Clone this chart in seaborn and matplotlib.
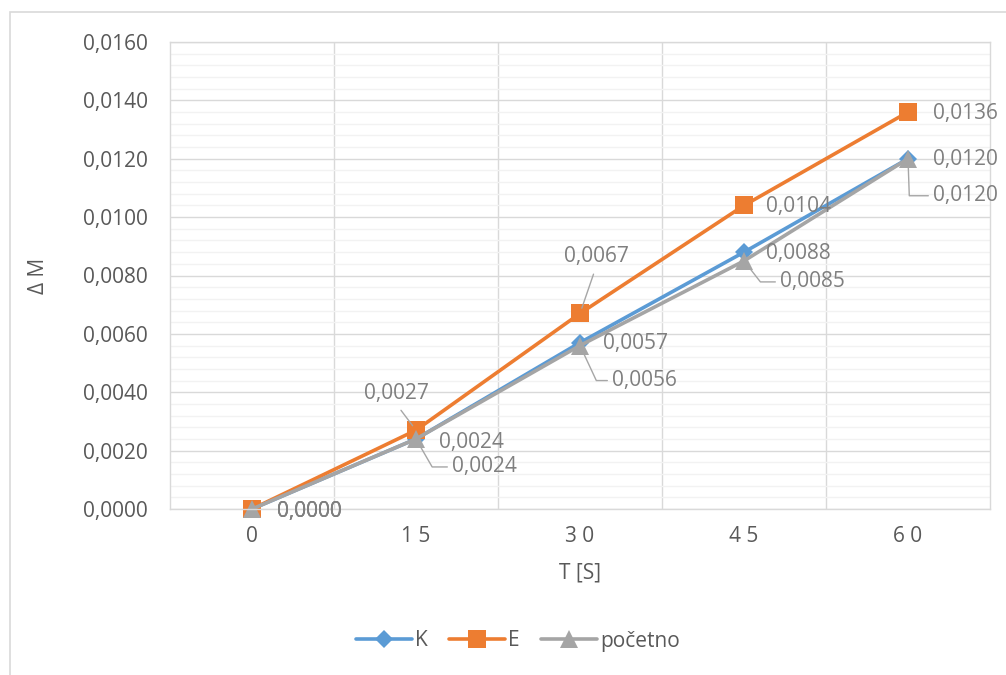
import seaborn as sns
from matplotlib import pyplot as plt
from matplotlib.patches import Rectangle
from matplotlib.ticker import MultipleLocator, FuncFormatter
import pandas as pd

# data
times = [0, 15, 30, 45, 60]
tick_labels = ['0', '1 5', '3 0', '4 5', '6 0']
series_names = ['K', 'E', 'početno']
k_vals = [0.0000, 0.0024, 0.0057, 0.0088, 0.0120]
e_vals = [0.0000, 0.0027, 0.0067, 0.0104, 0.0136]
p_vals = [0.0000, 0.0024, 0.0056, 0.0085, 0.0120]

colors = {'K': '#5B9BD5', 'E': '#ED7D31', 'početno': '#A5A5A5'}
markers = {'K': 'D', 'E': 's', 'početno': '^'}
msizes = {'K': 9, 'E': 12.5, 'početno': 13.5}

df = pd.DataFrame({
    'T': times * 3,
    'dM': k_vals + e_vals + p_vals,
    'serija': [s for s in series_names for _ in times],
})

sns.set_style('white')
plt.rcParams['font.family'] = ['Open Sans', 'DejaVu Sans']

TXT = '#595959'
LBL = '#7F7F7F'
GRID = '#D9D9D9'
FS = 15

fig = plt.figure(figsize=(10.06, 6.75), dpi=100)
ax = fig.add_axes([170 / 1006, 1 - 509 / 675, 820 / 1006, 467 / 675])

sns.lineplot(data=df, x='T', y='dM', hue='serija', style='serija',
             hue_order=series_names, style_order=series_names,
             palette=colors, markers=markers, dashes=False,
             linewidth=2.6, markeredgewidth=0, legend=False, ax=ax)

lines = ax.lines[:3]
for ln, name in zip(lines, series_names):
    ln.set_markersize(msizes[name])
    ln.set_solid_capstyle('round')
    ln.set_solid_joinstyle('round')
    ln.set_clip_on(False)

ax.set_xlim(-7.5, 67.5)
ax.set_ylim(0, 0.016)
ax.set_xticks(times)
ax.set_xticklabels(tick_labels)
ax.set_xticks([7.5, 22.5, 37.5, 52.5], minor=True)
ax.yaxis.set_major_locator(MultipleLocator(0.002))
ax.yaxis.set_minor_locator(MultipleLocator(0.0004))
ax.yaxis.set_major_formatter(FuncFormatter(lambda v, p: f'{v:.4f}'.replace('.', ',')))

ax.tick_params(axis='both', which='both', length=0, labelsize=FS, labelcolor=TXT)
ax.tick_params(axis='y', pad=16)
ax.tick_params(axis='x', pad=12)

ax.yaxis.grid(True, which='minor', color='#F2F2F2', lw=1)
ax.yaxis.grid(True, which='major', color=GRID, lw=1)
ax.xaxis.grid(True, which='minor', color=GRID, lw=1)
ax.xaxis.grid(False, which='major')
ax.set_axisbelow(True)
for sp in ax.spines.values():
    sp.set_color(GRID)
    sp.set_linewidth(1)

ax.set_xlabel('T [S]', fontsize=FS, color=TXT)
ax.set_ylabel('Δ M', fontsize=FS, color=TXT)
ax.xaxis.set_label_coords(0.5, -0.115)
ax.yaxis.set_label_coords(-0.148, 0.5)

PX = 72 / 100  # pixels -> points


def label(x, y, dx, dy, ha='left', va='center', leader=None):
    txt = f'{y:.4f}'.replace('.', ',')
    kw = {}
    if leader is not None:
        kw['arrowprops'] = leader
    ax.annotate(txt, xy=(x, y), xytext=(dx * PX, dy * PX), textcoords='offset points',
                ha=ha, va=va, fontsize=FS, color=LBL, annotation_clip=False, **kw)


def angled(angle):
    return dict(arrowstyle='-', color='#A6A6A6', lw=1, relpos=(0, 0.5),
                shrinkA=1, shrinkB=3,
                connectionstyle=f'angle,angleA=0,angleB={angle},rad=0')


def straight():
    return dict(arrowstyle='-', color='#A6A6A6', lw=1, relpos=(0.5, 0),
                shrinkA=3, shrinkB=4)


# K labels: right of the point
k_off = [(25, -2), (23, -4), (23, -1), (22, -1), (25, -1)]
for t, v, (dx, dy) in zip(times, k_vals, k_off):
    label(t, v, dx, dy)

# E labels
label(times[0], e_vals[0], 25, -2)
label(times[1], e_vals[1], -20, 37, ha='center', leader=straight())
label(times[2], e_vals[2], 16, 57, ha='center', leader=straight())
label(times[3], e_vals[3], 22, -1)
label(times[4], e_vals[4], 25, -1)

# početno labels: below right with leader lines
label(times[0], p_vals[0], 25, -2)
label(times[1], p_vals[1], 36, -28, leader=angled(-60))
label(times[2], p_vals[2], 32, -35, leader=angled(-65))
label(times[3], p_vals[3], 36, -21, leader=angled(-52))
label(times[4], p_vals[4], 25, -37, leader=angled(-88))

fig.legend(lines, series_names, loc='center', bbox_to_anchor=(518 / 1006, 1 - 641 / 675),
           ncol=3, frameon=False, fontsize=FS, labelcolor=TXT,
           handlelength=2.7, handletextpad=0.15, columnspacing=1.0)

# outer chart border
fig.patches.append(Rectangle((10 / 1006, -0.1), 1.2, (675 - 12) / 675 + 0.1,
                             transform=fig.transFigure, fill=False,
                             ec=GRID, lw=1.2))

fig.savefig('out.png', dpi=100)
